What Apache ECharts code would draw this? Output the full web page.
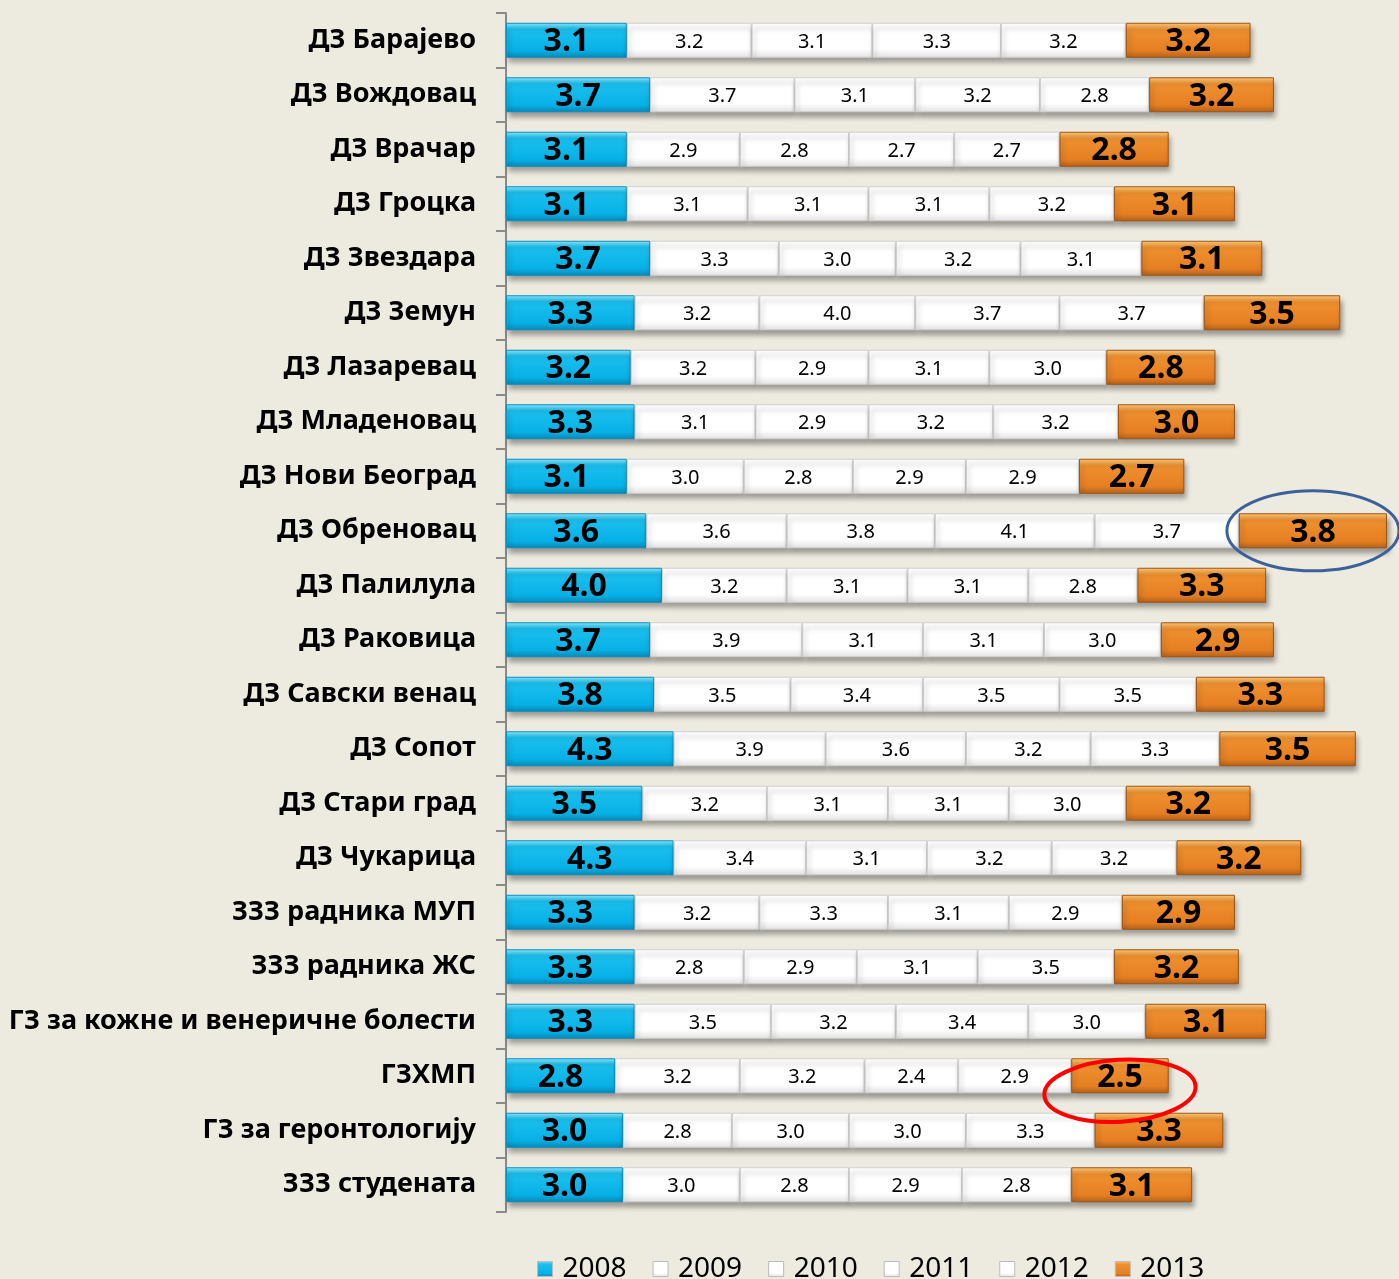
<!DOCTYPE html>
<html>
<head>
<meta charset="utf-8">
<script src="https://cdn.jsdelivr.net/npm/echarts@6/dist/echarts.min.js"></script>
<style>
  html, body { margin: 0; padding: 0; background: #edeae0; }
  #chart { width: 1399px; height: 1279px; }
</style>
</head>
<body>
<div id="chart"></div>
<script>
/** 数据 */
let categories = ["ДЗ Барајево", "ДЗ Вождовац", "ДЗ Врачар", "ДЗ Гроцка", "ДЗ Звездара", "ДЗ Земун", "ДЗ Лазаревац",
	"ДЗ Младеновац", "ДЗ Нови Београд", "ДЗ Обреновац", "ДЗ Палилула", "ДЗ Раковица", "ДЗ Савски венац", "ДЗ Сопот",
	"ДЗ Стари град", "ДЗ Чукарица", "ЗЗЗ радника МУП", "ЗЗЗ радника ЖС", "ГЗ за кожне и венеричне болести", "ГЗХМП",
	"ГЗ за геронтологију", "ЗЗЗ студената"];
let years = ["2008", "2009", "2010", "2011", "2012", "2013"];
let v2008 = [3.1, 3.7, 3.1, 3.1, 3.7, 3.3, 3.2, 3.3, 3.1, 3.6, 4.0, 3.7, 3.8, 4.3, 3.5, 4.3, 3.3, 3.3, 3.3, 2.8, 3.0, 3.0];
let v2009 = [3.2, 3.7, 2.9, 3.1, 3.3, 3.2, 3.2, 3.1, 3.0, 3.6, 3.2, 3.9, 3.5, 3.9, 3.2, 3.4, 3.2, 2.8, 3.5, 3.2, 2.8, 3.0];
let v2010 = [3.1, 3.1, 2.8, 3.1, 3.0, 4.0, 2.9, 2.9, 2.8, 3.8, 3.1, 3.1, 3.4, 3.6, 3.1, 3.1, 3.3, 2.9, 3.2, 3.2, 3.0, 2.8];
let v2011 = [3.3, 3.2, 2.7, 3.1, 3.2, 3.7, 3.1, 3.2, 2.9, 4.1, 3.1, 3.1, 3.5, 3.2, 3.1, 3.2, 3.1, 3.1, 3.4, 2.4, 3.0, 2.9];
let v2012 = [3.2, 2.8, 2.7, 3.2, 3.1, 3.7, 3.0, 3.2, 2.9, 3.7, 2.8, 3.0, 3.5, 3.3, 3.0, 3.2, 2.9, 3.5, 3.0, 2.9, 3.3, 2.8];
let v2013 = [3.2, 3.2, 2.8, 3.1, 3.1, 3.5, 2.8, 3.0, 2.7, 3.8, 3.3, 2.9, 3.3, 3.5, 3.2, 3.2, 2.9, 3.2, 3.1, 2.5, 3.3, 3.1];
let values = [v2008, v2009, v2010, v2011, v2012, v2013];
// 标注的椭圆：类别索引
let blueMark = 9;  // ДЗ Обреновац, 2013
let redMark = 19;  // ГЗХМП, 2013

let FONT = "Noto Sans";
let blueFill = new echarts.graphic.LinearGradient(0, 0, 0, 1, [
	{ offset: 0, color: "#8fe6fb" },
	{ offset: 0.18, color: "#1cc0ee" },
	{ offset: 0.8, color: "#06b0e6" },
	{ offset: 1, color: "#0a86b4" },
]);
let orangeFill = new echarts.graphic.LinearGradient(0, 0, 0, 1, [
	{ offset: 0, color: "#fcc878" },
	{ offset: 0.2, color: "#ef9130" },
	{ offset: 0.8, color: "#e57e22" },
	{ offset: 1, color: "#b0601a" },
]);
let whiteFill = new echarts.graphic.LinearGradient(0, 0, 0, 1, [
	{ offset: 0, color: "#ffffff" },
	{ offset: 0.75, color: "#ffffff" },
	{ offset: 1, color: "#e2e2e2" },
]);

function makeSeries(i) {
	let edge = i === 0 || i === 5;
	return {
		name: years[i],
		type: "bar",
		stack: "total",
		barWidth: 35,
		data: values[i],
		itemStyle: {
			color: i === 0 ? blueFill : i === 5 ? orangeFill : whiteFill,
			borderColor: i === 0 ? "#0a8fbf" : i === 5 ? "#9c5616" : "#cfcfcf",
			borderWidth: 1,
			shadowColor: "rgba(0, 0, 0, 0.35)",
			shadowBlur: 5,
			shadowOffsetX: 2,
			shadowOffsetY: 5,
		},
		label: {
			show: true,
			position: "inside",
			formatter: (p) => p.value.toFixed(1),
			fontFamily: FONT,
			color: "#000",
			fontSize: edge ? 32 : 20,
			fontWeight: edge ? "bold" : "normal",
			offset: [0, 2],
		},
		emphasis: { disabled: true },
	};
}

let chart = echarts.init(document.getElementById("chart"));
let option = {
	backgroundColor: "#edeae0",
	animation: false,
	grid: {
		left: 506,
		right: 12,
		top: 13,
		bottom: 67,
	},
	xAxis: {
		type: "value",
		min: 0,
		max: 22.6,
		show: false,
	},
	yAxis: {
		type: "category",
		data: categories,
		inverse: true,
		axisLine: { show: true, lineStyle: { color: "#8a8a8a", width: 2 } },
		axisTick: { show: true, length: 10, lineStyle: { color: "#8a8a8a", width: 2 } },
		axisLabel: {
			fontFamily: FONT,
			fontSize: 27,
			fontWeight: "bold",
			color: "#000",
			margin: 30,
		},
	},
	legend: {
		data: years.map((y, i) => ({
			name: y,
			itemStyle: { color: i === 0 ? blueFill : i === 5 ? orangeFill : whiteFill, borderColor: "#bbb", borderWidth: 1, shadowBlur: 0, shadowOffsetX: 0, shadowOffsetY: 0 },
		})),
		left: 532,
		top: 1250,
		icon: "rect",
		itemWidth: 15,
		itemHeight: 15,
		itemGap: 26,
		textStyle: { fontFamily: FONT, fontSize: 28, color: "#000", padding: [0, 0, 0, 5] },
	},
	series: years.map((y, i) => makeSeries(i)),
};
chart.setOption(option);

// 椭圆标注，位置由数据换算
function segmentRange(idx) {
	let start = 0;
	for (let i = 0; i < 5; i++) start += values[i][idx];
	return [start, start + values[5][idx]];
}
function ellipseFor(idx, padX, dy, ry, color, width, rotation) {
	let r = segmentRange(idx);
	let p0 = chart.convertToPixel({ gridIndex: 0 }, [r[0], idx]);
	let p1 = chart.convertToPixel({ gridIndex: 0 }, [r[1], idx]);
	return {
		type: "ellipse",
		shape: { cx: 0, cy: 0, rx: (p1[0] - p0[0]) / 2 + padX, ry: ry },
		x: (p0[0] + p1[0]) / 2,
		y: p0[1] + dy,
		rotation: rotation,
		style: { fill: "none", stroke: color, lineWidth: width },
		z: 100,
	};
}
chart.setOption({
	graphic: [
		ellipseFor(blueMark, 12, 0, 40, "#3c6199", 3, 0),
		ellipseFor(redMark, 27, 15, 31, "#ff0000", 4, 0.06),
	],
});
</script>
</body>
</html>
